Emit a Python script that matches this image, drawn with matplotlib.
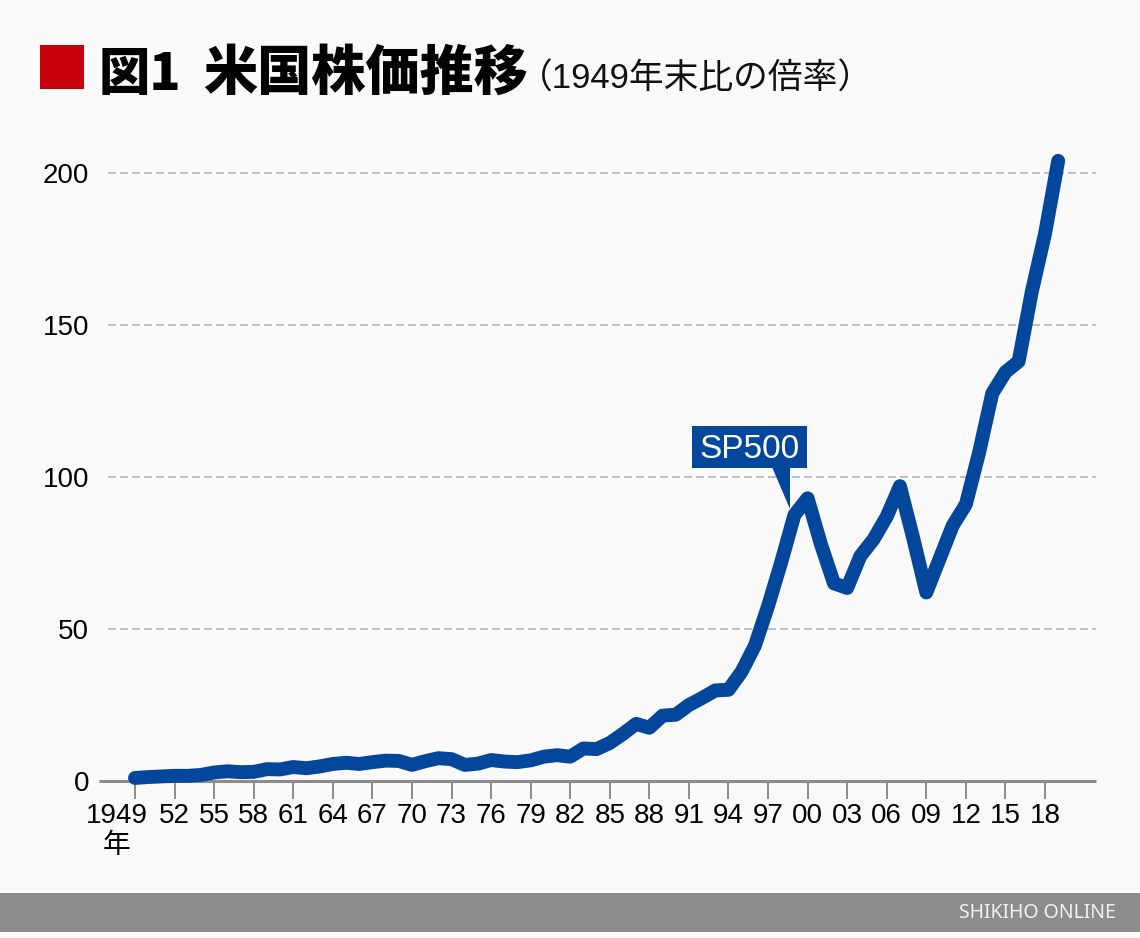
import matplotlib
matplotlib.use("Agg")
import matplotlib.pyplot as plt
from matplotlib.patches import Polygon, Rectangle
from matplotlib.transforms import ScaledTranslation

W, H = 1140, 938
BG = "#fafafa"
BLUE = "#03479c"
GREY = "#8c8c8c"
NUM_FONT = ["Liberation Sans", "Noto Sans CJK JP"]
JP_FONT = ["Noto Sans CJK JP", "Liberation Sans"]

years = list(range(1949, 2020))
sp500 = [1.0, 1.3, 1.5, 1.7, 1.7, 2.0, 2.8, 3.2, 2.9, 3.0,
         3.9, 3.8, 4.6, 4.2, 4.8, 5.6, 6.0, 5.6, 6.2, 6.7,
         6.6, 5.3, 6.5, 7.5, 7.2, 5.3, 5.7, 6.9, 6.4, 6.2,
         6.8, 8.0, 8.5, 8.0, 10.7, 10.5, 12.5, 15.5, 18.8, 17.5,
         21.5, 21.8, 25.0, 27.3, 29.8, 30.0, 36.0, 44.5, 57.5, 72.0,
         87.5, 93.0, 78.0, 65.0, 63.5, 74.0, 79.5, 87.0, 97.0, 80.0,
         62.0, 73.0, 84.0, 91.0, 108.0, 127.5, 134.5, 138.0, 161.0, 180.0,
         204.0]

tick_years = list(range(1949, 2019, 3))
tick_labels = ["1949\n年", "52", "55", "58", "61", "64", "67", "70", "73", "76", "79", "82",
               "85", "88", "91", "94", "97", "00", "03", "06", "09", "12", "15", "18"]
y_ticks = [0, 50, 100, 150, 200]


def fx(px):
    return px / W


def fy(py):
    return 1 - py / H


fig = plt.figure(figsize=(W / 100, H / 100), dpi=100, facecolor=BG)

# axes box in pixels, scale
ax = fig.add_axes([fx(99), fy(781), fx(1096) - fx(99), fy(140) - fy(781)], facecolor="none")
px_per_year = (1045 - 135) / (2018 - 1949)
ax.set_xlim(1949 - (135 - 99) / px_per_year, 1949 + (1096 - 135) / px_per_year)
ax.set_ylim(0, (781 - 140) / 3.04)

for v in y_ticks[1:]:
    ax.axhline(v, xmin=9 / 997, color="#bfbfbf", lw=1.44, ls=(0, (4, 2)), zorder=1)

ax.plot(years, sp500, color=BLUE, lw=10, solid_capstyle="round", solid_joinstyle="round",
        clip_on=False, zorder=3)

for s in ["top", "left", "right"]:
    ax.spines[s].set_visible(False)
ax.spines["bottom"].set_color(GREY)
ax.spines["bottom"].set_linewidth(2.2)
ax.spines["bottom"].set_capstyle("butt")
ax.spines["bottom"].set_zorder(2)

ax.set_yticks(y_ticks)
ax.tick_params(axis="y", length=0, pad=7, labelsize=20, labelcolor="black")
for lab in ax.get_yticklabels():
    lab.set_family(NUM_FONT)

ax.set_xticks(tick_years)
ax.set_xticklabels(tick_labels, family=NUM_FONT, fontsize=20, linespacing=1.2)
ax.tick_params(axis="x", length=13, width=1.4, color=GREY, pad=3, labelcolor="black")
# the 1949 label sits left of its tick
first = ax.get_xticklabels()[0]
first.set_transform(first.get_transform() + ScaledTranslation(-18 / 100, 0, fig.dpi_scale_trans))

# title block
fig.add_artist(Rectangle((fx(40), fy(89)), fx(44), fy(45) - fy(89), transform=fig.transFigure,
                         color="#c8000b", lw=0))
fig.text(fx(99), fy(90), "図1", family=JP_FONT, fontsize=37, fontweight="black",
         color="black", va="baseline")
fig.text(fx(203), fy(90), "米国株価推移", family=JP_FONT, fontsize=39, fontweight="black",
         color="black", va="baseline")
fig.text(fx(518), fy(89), "（1949年末比の倍率）", family=NUM_FONT, fontsize=25, color="#111111",
         va="baseline")

# SP500 callout
fig.add_artist(Rectangle((fx(692), fy(468)), fx(115), fy(426) - fy(468), transform=fig.transFigure,
                         color=BLUE, lw=0, zorder=5))
fig.add_artist(Polygon([(fx(772), fy(467)), (fx(790), fy(467)), (fx(790), fy(509))],
                       transform=fig.transFigure, color=BLUE, lw=0, zorder=5))
fig.text(fx(749.5), fy(449), "SP500", family=NUM_FONT, fontsize=24, color="white",
         ha="center", va="center", zorder=6)

# footer band
fig.add_artist(Rectangle((0, fy(932)), 1, fy(893) - fy(932), transform=fig.transFigure,
                         color=GREY, lw=0))
fig.text(fx(1116), fy(913), "SHIKIHO ONLINE", family=["Noto Sans", "Roboto"], fontsize=14,
         color="#f2f2f2", ha="right", va="center")

fig.savefig("out.png", dpi=100, facecolor=BG)
